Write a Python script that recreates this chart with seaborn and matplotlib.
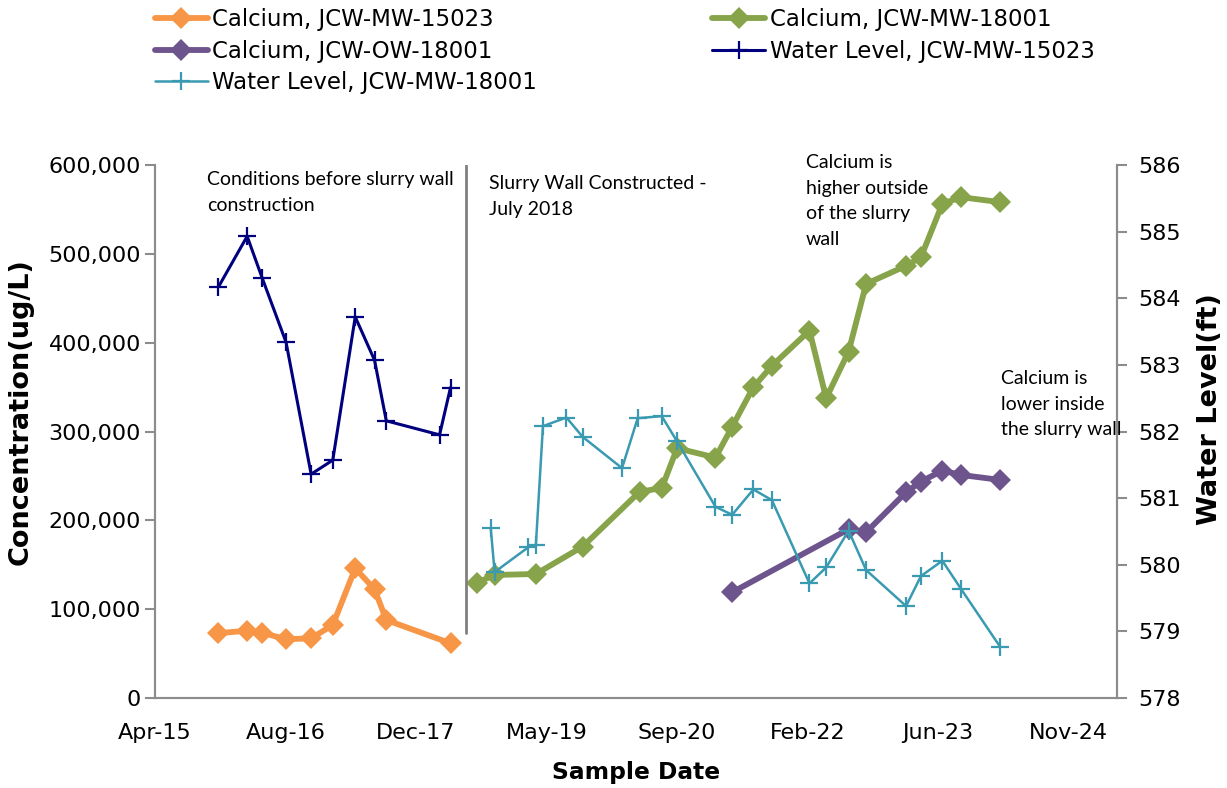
import pandas as pd
import numpy as np
import matplotlib
matplotlib.use("Agg")
import matplotlib.pyplot as plt
import matplotlib.dates as mdates
from matplotlib.ticker import FuncFormatter
import seaborn as sns

# sample dates and values
pre_dates = ["2015-12-05", "2016-03-24", "2016-05-20", "2016-08-20", "2016-11-24",
             "2017-02-15", "2017-05-12", "2017-07-25", "2017-09-08", "2018-05-12"]
ca_mw15023 = [72900, 75800, 73500, 66100, 67200, 82200, 146000, 122400, 87800, 61600]

wl15023_dates = ["2015-12-05", "2016-03-24", "2016-05-20", "2016-08-20", "2016-11-24",
                 "2017-02-15", "2017-05-12", "2017-07-25", "2017-09-08", "2018-03-31",
                 "2018-05-12"]
wl_mw15023 = [584.17, 584.93, 584.31, 583.34, 581.36, 581.57, 583.72, 583.07,
              582.16, 581.95, 582.66]

ca18001_dates = ["2018-08-21", "2018-10-28", "2019-04-04", "2019-09-30", "2020-05-06",
                 "2020-07-29", "2020-09-26", "2021-02-20", "2021-04-25", "2021-07-15",
                 "2021-09-24", "2022-02-15", "2022-04-20", "2022-07-15", "2022-09-20",
                 "2023-02-20", "2023-04-18", "2023-07-09", "2023-09-18", "2024-02-15"]
ca_mw18001 = [129800, 138500, 139600, 170400, 232300, 236200, 281200, 270600, 305500,
              349900, 373900, 413600, 337500, 390000, 466200, 486500, 496300, 556300,
              563800, 558200]

ow_dates = ["2021-04-25", "2022-07-15", "2022-09-20", "2023-02-20", "2023-04-18",
            "2023-07-09", "2023-09-18", "2024-02-15"]
ca_ow18001 = [119000, 190000, 186600, 231600, 243600, 256000, 251100, 245500]

wl18001_dates = ["2018-10-13", "2018-10-28", "2019-03-05", "2019-04-04", "2019-05-01",
                 "2019-07-30", "2019-09-30", "2020-02-28", "2020-04-28", "2020-07-29",
                 "2020-09-26", "2021-02-20", "2021-04-25", "2021-07-15", "2021-09-24",
                 "2022-02-15", "2022-04-20", "2022-07-15", "2022-09-20", "2023-02-20",
                 "2023-04-18", "2023-07-09", "2023-09-18", "2024-02-15"]
wl_mw18001 = [580.55, 579.89, 580.26, 580.30, 582.08, 582.21, 581.92, 581.45, 582.20,
              582.23, 581.85, 580.87, 580.75, 581.13, 580.97, 579.72, 579.96, 580.51,
              579.92, 579.38, 579.83, 580.06, 579.64, 578.77]

wall_date = "2018-07-09"
wall_extent = [73000, 600000]

sns.set_style("white")
plt.rcParams["font.family"] = ["DejaVu Sans"]
plt.rcParams["text.color"] = "black"

fig = plt.figure(figsize=(12.27, 7.88), dpi=100)
ax = fig.add_axes([155/1227, 1 - 698/788, (1117 - 155)/1227, (698 - 165)/788])
ax2 = ax.twinx()

def ca_line(dates, vals, color, label):
    sns.lineplot(x=pd.to_datetime(dates), y=vals, ax=ax, color=color, lw=4.2,
                 marker="D", markersize=11.5, markeredgecolor=color, markeredgewidth=0,
                 label=label)

def wl_line(dates, vals, color, label, lw):
    sns.lineplot(x=pd.to_datetime(dates), y=vals, ax=ax2, color=color, lw=lw,
                 marker="+", markersize=13, markeredgecolor=color, markeredgewidth=1.6,
                 label=label)

ca_line(pre_dates, ca_mw15023, "#F79646", "Calcium, JCW-MW-15023")
ca_line(ca18001_dates, ca_mw18001, "#87A44A", "Calcium, JCW-MW-18001")
ca_line(ow_dates, ca_ow18001, "#6E548D", "Calcium, JCW-OW-18001")
wl_line(wl15023_dates, wl_mw15023, "#00007F", "Water Level, JCW-MW-15023", 2.2)
wl_line(wl18001_dates, wl_mw18001, "#3A9AB1", "Water Level, JCW-MW-18001", 1.8)

# slurry wall line
ax.plot(pd.to_datetime([wall_date, wall_date]), wall_extent, color="#808080", lw=2)

# axes
x_start = pd.Timestamp("2015-04-06")
x_end = pd.Timestamp("2025-05-08")
ax.set_xlim(x_start, x_end)
ax.set_xticks(pd.date_range(x_start, periods=8, freq="500D"))
ax.xaxis.set_major_formatter(mdates.DateFormatter("%b-%y"))
ax.set_ylim(0, 600000)
ax.set_yticks(np.arange(0, 600001, 100000))
ax.yaxis.set_major_formatter(FuncFormatter(lambda v, p: f"{int(v):,}"))
ax2.set_ylim(578, 586)
ax2.set_yticks(np.arange(578, 587, 1))

spine_col = "#8C8C8C"
for a in (ax, ax2):
    for s in a.spines.values():
        s.set_color(spine_col)
        s.set_linewidth(1.5)
    a.spines["top"].set_visible(False)
    a.tick_params(length=7, width=1.5, color=spine_col, labelsize=16, labelcolor="black")
ax.tick_params(axis="y", pad=3)
ax.tick_params(axis="x", pad=11)
ax2.tick_params(axis="y", pad=8)

ax.set_xlabel("Sample Date", fontsize=16.8, fontweight="bold", labelpad=13, color="black")
ax.set_ylabel("Concentration(ug/L)", fontsize=19.5, fontweight="bold", color="black", va="center")
ax2.set_ylabel("Water Level(ft)", fontsize=19.5, fontweight="bold", color="black", va="center")
ax.yaxis.set_label_coords((21 - 155)/962, (698 - 412)/533)
ax2.yaxis.set_label_coords((1210 - 155)/962, (698 - 409)/533)

# legend
h1, l1 = ax.get_legend_handles_labels()
h2, l2 = ax2.get_legend_handles_labels()
ax.get_legend().remove()
ax2.get_legend().remove()
hd = dict(zip(l1 + l2, h1 + h2))
order = ["Calcium, JCW-MW-15023", "Calcium, JCW-OW-18001", "Water Level, JCW-MW-18001",
         "Calcium, JCW-MW-18001", "Water Level, JCW-MW-15023"]
fig.legend([hd[k] for k in order], order, loc="upper left",
           bbox_to_anchor=(155/1227, 1 - 8/788), ncol=2, frameon=False, fontsize=16.5,
           handlelength=2.3, handletextpad=0.2, columnspacing=7.65, labelspacing=0.38,
           borderaxespad=0, borderpad=0, labelcolor="black")

# annotations
note_font = ["Lato", "DejaVu Sans"]
def note(px, py, txt):
    fig.text(px/1227, 1 - py/788, txt, fontsize=14, family=note_font, va="top",
             ha="left", linespacing=1.62)

note(207, 171, "Conditions before slurry wall\nconstruction")
note(489, 175, "Slurry Wall Constructed -\nJuly 2018")
note(806, 154, "Calcium is\nhigher outside\nof the slurry\nwall")
note(1001, 370, "Calcium is\nlower inside\nthe slurry wall")

fig.savefig("out.png", dpi=100)
